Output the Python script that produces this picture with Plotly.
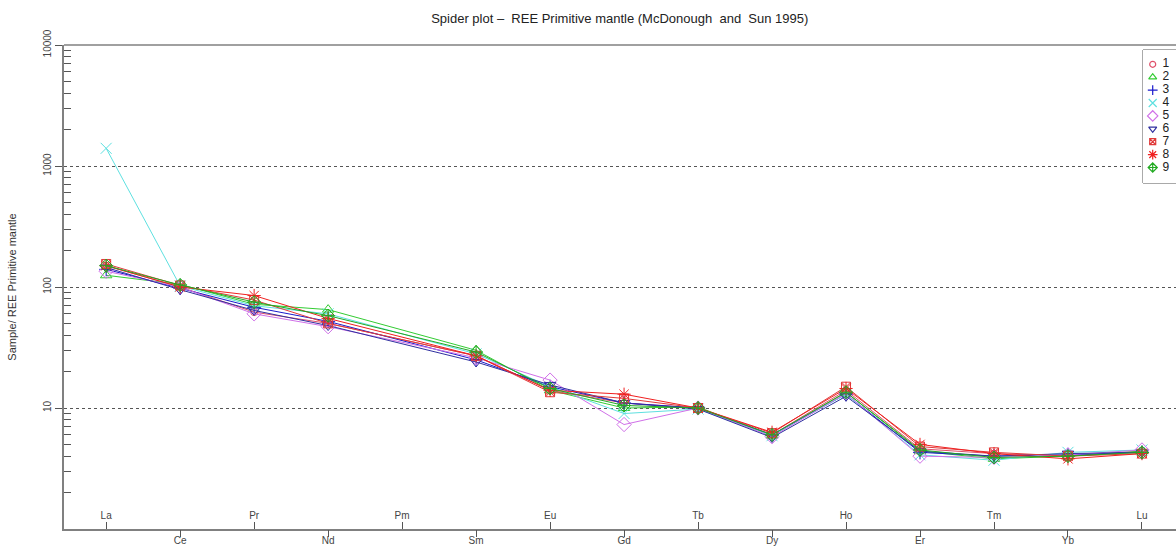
import plotly.graph_objects as go

elements = ["La", "Ce", "Pr", "Nd", "Pm", "Sm", "Eu", "Gd", "Tb", "Dy", "Ho", "Er", "Tm", "Yb", "Lu"]
N = None
s1 = [150, 100, 62, 50, N, 27, 14.0, 11.0, 10.0, 6.0, 14.0, 4.6, 4.2, 4.0, 4.4]
s2 = [125, 105, 72, 65, N, 30, 14.0, 10.0, 10.2, 5.9, 13.5, 4.4, 3.8, 4.0, 4.4]
s3 = [140, 98, 68, 52, N, 25, 15.0, 11.0, 10.0, 6.0, 13.0, 4.3, 4.0, 4.1, 4.3]
s4 = [1400, 102, 70, 60, N, 28, 15.0, 9.0, 9.8, 5.9, 13.0, 4.1, 3.7, 4.3, 4.5]
s5 = [135, 100, 60, 47, N, 26, 17.0, 7.3, 10.0, 5.8, 13.2, 4.0, 3.9, 4.1, 4.5]
s6 = [145, 95, 64, 48, N, 24, 15.5, 11.0, 9.8, 5.7, 12.5, 4.4, 4.0, 4.2, 4.3]
s7 = [155, 103, 78, 50, N, 27, 13.5, 12.0, 10.0, 6.2, 15.0, 4.8, 4.3, 4.0, 4.2]
s8 = [150, 100, 85, 55, N, 27, 14.0, 13.0, 10.0, 6.3, 14.5, 5.0, 4.2, 3.8, 4.2]
s9 = [150, 104, 75, 58, N, 29, 14.5, 10.5, 10.0, 6.0, 13.5, 4.5, 3.9, 4.0, 4.3]
series = [s1, s2, s3, s4, s5, s6, s7, s8, s9]
names = ["1", "2", "3", "4", "5", "6", "7", "8", "9"]
colors = ["#e0506a", "#33cc33", "#1a1acc", "#5ee0e0", "#d070e8", "#3030a0", "#e03a3a", "#f02020", "#22aa22"]
symbols = ["circle-open", "triangle-up-open", "cross-thin-open", "x-thin-open", "diamond-open",
           "triangle-down-open", "square-x-open", "asterisk-open", "diamond-cross-open"]
sizes = [7, 10, 10, 11, 11, 10, 9, 11, 10]

xs = list(range(len(elements)))
fig = go.Figure()
for name, ys, c, sym, sz in zip(names, series, colors, symbols, sizes):
    fig.add_trace(go.Scatter(
        x=xs, y=ys, name=name, mode="lines+markers", connectgaps=True,
        line=dict(color=c, width=1),
        marker=dict(symbol=sym, size=sz, color=c, line=dict(color=c, width=1)),
        showlegend=False,
    ))

# compact legend drawn as its own little axis (markers + labels)
leg_rows = list(range(len(names)))
for i, (name, c, sym, sz) in enumerate(zip(names, colors, symbols, sizes)):
    fig.add_trace(go.Scatter(
        x=[0], y=[leg_rows[i]], xaxis="x3", yaxis="y3", mode="markers",
        marker=dict(symbol=sym, size=max(6, sz - 3), color=c, line=dict(color=c, width=1.2)),
        showlegend=False, hoverinfo="skip", cliponaxis=False))
fig.add_trace(go.Scatter(
    x=[1] * len(names), y=leg_rows, xaxis="x3", yaxis="y3", mode="text",
    text=names, textposition="middle right", cliponaxis=False,
    textfont=dict(family="Liberation Sans, Arial", size=12, color="#222"),
    showlegend=False, hoverinfo="skip"))

top_idx = xs[0::2]
bot_idx = xs[1::2]
xr = [-0.57, 14.46]
axis_col = "#808080"
tick_font = dict(family="Liberation Sans, Arial", size=10, color="#444")

W, H = 1176, 546
L, T, B = 64, 45, 17
plot_w = W - L
plot_h = H - T - B

fig.update_layout(
    width=W, height=H,
    margin=dict(l=L, r=0, t=T, b=B, autoexpand=False),
    plot_bgcolor="white", paper_bgcolor="white",
    font=dict(family="Liberation Sans, Arial", size=11, color="#222"),
    title=dict(text="Spider plot \u2013  REE Primitive mantle (McDonough  and  Sun 1995)",
               x=0.527, xanchor="center", y=0.967, yanchor="middle",
               font=dict(size=13, color="#222")),
    showlegend=False,
    xaxis=dict(range=xr, tickmode="array", tickvals=top_idx,
               ticktext=[elements[i] for i in top_idx],
               ticks="inside", ticklen=7, tickcolor="#555", ticklabelposition="inside",
               showline=True, linecolor=axis_col, linewidth=1.5,
               showgrid=False, zeroline=False, tickfont=tick_font),
    xaxis2=dict(range=xr, overlaying="x", side="bottom", anchor="y", matches="x",
                tickmode="array", tickvals=bot_idx,
                ticktext=[elements[i] for i in bot_idx],
                ticks="outside", ticklen=7, tickcolor="#555", ticklabelstandoff=-5,
                showline=False, showgrid=False, zeroline=False, tickfont=tick_font),
    yaxis=dict(type="log", range=[0, 4], tickmode="array",
               tickvals=[1, 10, 100, 1000, 10000],
               ticktext=["1", "10", "100", "1000", "10000"],
               tickangle=-90, ticks="outside", ticklen=7, tickcolor="#555",
               showline=True, linecolor=axis_col, linewidth=1.5,
               showgrid=True, gridcolor="#555", griddash="dot", gridwidth=1,
               zeroline=False, tickfont=tick_font,
               minor=dict(ticks="inside", ticklen=7, tickcolor="#555", showgrid=False,
                          tickvals=[2, 3, 4, 5, 6, 7, 8, 9, 20, 30, 40, 50, 60, 70, 80, 90,
                                    200, 300, 400, 500, 600, 700, 800, 900,
                                    2000, 3000, 4000, 5000, 6000, 7000, 8000, 9000]),
               title=dict(text="Sample/ REE Primitive mantle", standoff=23,
                          font=dict(size=11, color="#333"))),
    # legend axes: box from px x 1143..1176, y 50..183
    xaxis3=dict(domain=[(1143 - L) / plot_w, 1.0], anchor="y3", range=[-1.0, 2.4],
                visible=False, fixedrange=True),
    yaxis3=dict(domain=[(T + plot_h - 183) / plot_h, (T + plot_h - 50) / plot_h], anchor="x3",
                range=[9.2, -1.11], visible=False, fixedrange=True),
)
# invisible trace to activate xaxis2
fig.add_trace(go.Scatter(x=[xr[0]], y=[1], xaxis="x2", mode="markers",
                         marker=dict(opacity=0), showlegend=False, hoverinfo="skip"))
fig.add_shape(type="line", xref="paper", yref="paper", x0=0, x1=1, y0=1, y1=1,
              line=dict(color=axis_col, width=1.5))
fig.add_shape(type="rect", xref="x3 domain", yref="y3 domain", x0=0, x1=1.3, y0=0, y1=1,
              line=dict(color="#555", width=1), fillcolor="white", layer="below")

fig.write_html("out.html", config={"displayModeBar": False},
               post_script="document.body.style.margin='0';document.body.style.overflow='hidden';")
